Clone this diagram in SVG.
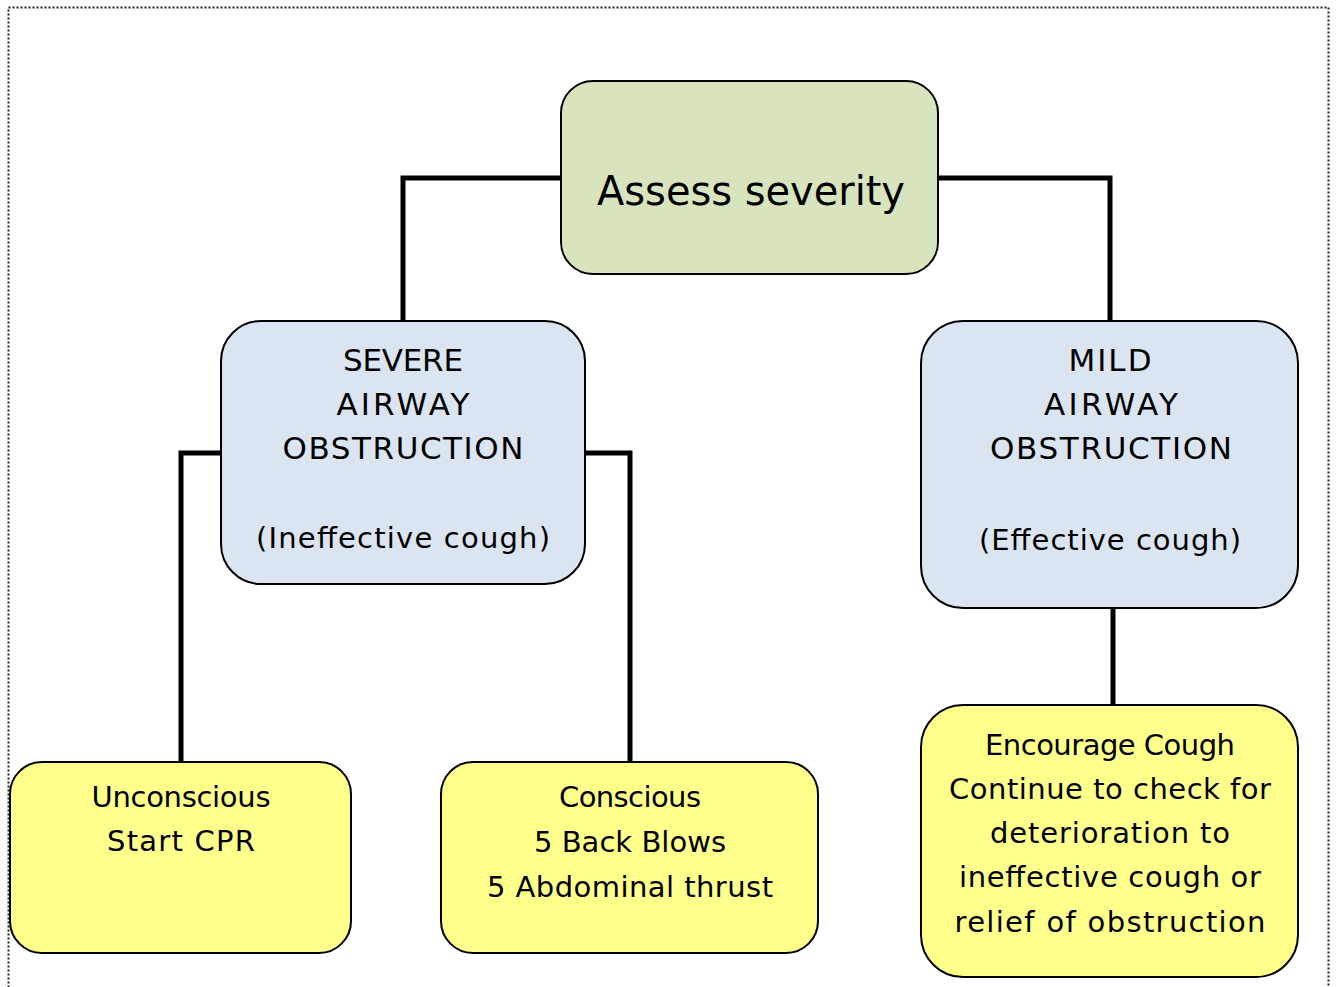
<svg xmlns="http://www.w3.org/2000/svg" width="1336" height="987" viewBox="0 0 1336 987">
<style>
.box{stroke:#000;stroke-width:2}
.g{fill:#d7e4bd}
.b{fill:#dbe5f1}
.y{fill:#ffff8c}
.t{font-family:"Comic Sans MS","DejaVu Sans",sans-serif;font-size:29px;fill:#000;text-anchor:middle}
.cap{font-size:31px}
.big{font-size:40px}
.conn{fill:none;stroke:#000;stroke-width:5;stroke-linejoin:miter}
</style>
<rect width="1336" height="987" fill="#fff"/>
<rect x="8.5" y="7.5" width="1320" height="1000" fill="none" stroke="#222" stroke-width="2" stroke-dasharray="2,2"/>
<g id="connectors">
<polyline class="conn" points="561,178 403,178 403,321"/>
<polyline class="conn" points="938,178 1110,178 1110,321"/>
<polyline class="conn" points="221,453 181,453 181,762"/>
<polyline class="conn" points="585,453 630,453 630,762"/>
<polyline class="conn" points="1113,608 1113,705"/>
</g>
<g id="assess">
<rect class="box g" x="561" y="81" width="377" height="193" rx="32"/>
<text class="t big" x="751" y="205" textLength="308" lengthAdjust="spacingAndGlyphs">Assess severity</text>
</g>
<g id="severe">
<rect class="box b" x="221" y="321" width="364" height="263" rx="40"/>
<text class="t cap" x="403" y="371" textLength="120" lengthAdjust="spacing">SEVERE</text>
<text class="t cap" x="403" y="415" textLength="133" lengthAdjust="spacing">AIRWAY</text>
<text class="t cap" x="403" y="459" textLength="241" lengthAdjust="spacing">OBSTRUCTION</text>
<text class="t" x="403" y="548" textLength="294" lengthAdjust="spacing">(Ineffective cough)</text>
</g>
<g id="mild">
<rect class="box b" x="921" y="321" width="377" height="287" rx="42"/>
<text class="t cap" x="1110" y="371" textLength="83" lengthAdjust="spacing">MILD</text>
<text class="t cap" x="1111" y="415" textLength="134" lengthAdjust="spacing">AIRWAY</text>
<text class="t cap" x="1111" y="459" textLength="242" lengthAdjust="spacing">OBSTRUCTION</text>
<text class="t" x="1110" y="550" textLength="262" lengthAdjust="spacing">(Effective cough)</text>
</g>
<g id="unconscious">
<rect class="box y" x="10" y="762" width="341" height="191" rx="32"/>
<text class="t" x="181" y="807" textLength="179" lengthAdjust="spacing">Unconscious</text>
<text class="t" x="181" y="851" textLength="148" lengthAdjust="spacing">Start CPR</text>
</g>
<g id="conscious">
<rect class="box y" x="441" y="762" width="377" height="191" rx="32"/>
<text class="t" x="630" y="807" textLength="142" lengthAdjust="spacing">Conscious</text>
<text class="t" x="630" y="852" textLength="192" lengthAdjust="spacing">5 Back Blows</text>
<text class="t" x="630" y="897" textLength="286" lengthAdjust="spacing">5 Abdominal thrust</text>
</g>
<g id="encourage">
<rect class="box y" x="921" y="705" width="377" height="272" rx="42"/>
<text class="t" x="1110" y="755" textLength="250" lengthAdjust="spacing">Encourage Cough</text>
<text class="t" x="1110" y="799" textLength="322" lengthAdjust="spacing">Continue to check for</text>
<text class="t" x="1110" y="843" textLength="240" lengthAdjust="spacing">deterioration to</text>
<text class="t" x="1110" y="887" textLength="302" lengthAdjust="spacing">ineffective cough or</text>
<text class="t" x="1110" y="932" textLength="311" lengthAdjust="spacing">relief of obstruction</text>
</g>
</svg>
